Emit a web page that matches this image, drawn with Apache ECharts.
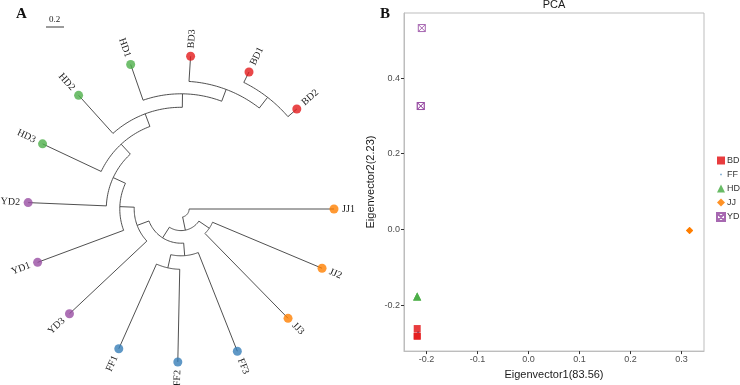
<!DOCTYPE html>
<html>
<head>
<meta charset="utf-8">
<script src="https://cdn.jsdelivr.net/npm/echarts@6/dist/echarts.min.js"></script>
<style>
  html, body { margin: 0; padding: 0; background: #fff; }
  #main { width: 740px; height: 385px; }
</style>
</head>
<body>
<div id="main"></div>
<script>
// ---------- A: circular tree ----------
// tips in the order they sit round the circle, clockwise from JJ1
const tipNames = ["JJ1", "JJ2", "JJ3", "FF3", "FF2", "FF1", "YD3", "YD1", "YD2", "HD3", "HD2", "HD1", "BD3", "BD1", "BD2"];
const tipGroups = ["JJ", "JJ", "JJ", "FF", "FF", "FF", "YD", "YD", "YD", "HD", "HD", "HD", "BD", "BD", "BD"];
const tipDepth = 1.70;
// internal nodes: distance from root and children
const nodeNames = ["root", "n1", "jj23", "n2", "ff", "ff12", "yd3n", "yd1n", "yd2n", "hd3n", "hd2n", "hd1n", "bd3n", "bd12"];
const nodeDepths = [0.09, 0.24, 0.38, 0.38, 0.52, 0.67, 0.52, 0.68, 0.83, 0.98, 1.13, 1.28, 1.42, 1.57];
const nodeChildren = [
  ["n1", "JJ1"], ["n2", "jj23"], ["JJ2", "JJ3"], ["yd3n", "ff"], ["ff12", "FF3"], ["FF1", "FF2"],
  ["yd1n", "YD3"], ["yd2n", "YD1"], ["hd3n", "YD2"], ["hd2n", "HD3"], ["hd1n", "HD2"],
  ["bd3n", "HD1"], ["bd12", "BD3"], ["BD1", "BD2"]
];

// ---------- B: PCA ----------
const pcaGroups = ["BD", "FF", "HD", "JJ", "YD"];
const pcaBD = [[-0.218, -0.262], [-0.218, -0.282], [-0.218, -0.282]];
const pcaFF = [[-0.216, -0.272], [-0.216, -0.272], [-0.216, -0.272]];
const pcaHD = [[-0.218, -0.177], [-0.218, -0.177], [-0.218, -0.177]];
const pcaJJ = [[0.316, -0.003], [0.316, -0.003], [0.316, -0.003]];
const pcaYD = [[-0.209, 0.532], [-0.211, 0.326], [-0.211, 0.326]];
const xTicks = [-0.2, -0.1, 0, 0.1, 0.2, 0.3];
const yTicks = [-0.2, 0, 0.2, 0.4];

const GROUP_COLORS = { BD: "#e41a1c", FF: "#377eb8", HD: "#4daf4a", JJ: "#ff7f00", YD: "#984ea3" };
const EDGE = "#3c3c3c";
const ANGLE_MAX = 15.79;      // leaf slots per full turn
const TREE_RADIUS = 153;
const LABEL_DEPTH = 1.79;
const SANS = "Liberation Sans";
const SERIF = "Liberation Serif";

function depthOf(name) {
  const t = tipNames.indexOf(name);
  return t >= 0 ? tipDepth : nodeDepths[nodeNames.indexOf(name)];
}
// ggtree style: node sits at mean position of its children
function angleOf(name) {
  const t = tipNames.indexOf(name);
  if (t >= 0) return t;
  const kids = nodeChildren[nodeNames.indexOf(name)];
  return kids.reduce((s, k) => s + angleOf(k), 0) / kids.length;
}

const arcData = [];
const stemData = [];
nodeNames.forEach((n, i) => {
  const angs = nodeChildren[i].map(angleOf);
  arcData.push([nodeDepths[i], Math.min(...angs), Math.max(...angs)]);
  nodeChildren[i].forEach((c) => stemData.push([nodeDepths[i], angleOf(c), depthOf(c)]));
});

function renderArc(params, api) {
  const r = api.value(0), a0 = api.value(1), a1 = api.value(2);
  const pts = [];
  const n = 30;
  for (let k = 0; k <= n; k++) pts.push(api.coord([r, a0 + (a1 - a0) * k / n]));
  return { type: "polyline", shape: { points: pts }, style: { stroke: EDGE, lineWidth: 0.9, fill: null } };
}
function renderStem(params, api) {
  const a = api.value(1);
  const p0 = api.coord([api.value(0), a]);
  const p1 = api.coord([api.value(2), a]);
  return { type: "line", shape: { x1: p0[0], y1: p0[1], x2: p1[0], y2: p1[1] }, style: { stroke: EDGE, lineWidth: 0.9 } };
}
function renderTipLabel(params, api) {
  const a = api.value(1);
  const p = api.coord([api.value(0), a]);
  let th = -a * 360 / ANGLE_MAX;
  while (th <= -180) th += 360;
  const onLeft = Math.cos(th * Math.PI / 180) < 0;
  return {
    type: "text",
    x: p[0], y: p[1],
    rotation: (onLeft ? th + 180 : th) * Math.PI / 180,
    style: {
      text: tipNames[params.dataIndex],
      align: onLeft ? "right" : "left",
      verticalAlign: "middle",
      fill: "#1a1a1a",
      font: "10px '" + SERIF + "'"
    }
  };
}

const YD_SYMBOL = "path://M0,0H10V10H0ZM0,0L10,10M10,0L0,10";
const FF_ICON = "path://M0,0M10,10M4.2,4.2H5.8V5.8H4.2Z";
const pcaSeriesData = { BD: pcaBD, FF: pcaFF, HD: pcaHD, JJ: pcaJJ, YD: pcaYD };
const pcaSymbols = {
  BD: ["rect", 7], FF: ["circle", 2], HD: ["triangle", 8], JJ: ["diamond", 7], YD: [YD_SYMBOL, 7]
};

const pcaSeries = pcaGroups.map((g) => ({
  name: g,
  type: "scatter",
  xAxisIndex: 0,
  yAxisIndex: 0,
  data: pcaSeriesData[g],
  symbol: pcaSymbols[g][0],
  symbolSize: pcaSymbols[g][1],
  z: g === "FF" ? 1 : 2,
  itemStyle: g === "YD"
    ? { color: "rgba(0,0,0,0)", borderColor: GROUP_COLORS.YD, borderWidth: 1, opacity: 0.85 }
    : { color: GROUP_COLORS[g], opacity: 0.85 }
}));

const scaleLen = TREE_RADIUS / tipDepth * 0.2;

const chart = echarts.init(document.getElementById("main"));
chart.setOption({
  animation: false,
  textStyle: { fontFamily: SANS },
  title: {
    text: "PCA", left: 554, top: -1, textAlign: "center", padding: 0,
    textStyle: { fontSize: 11, fontWeight: "normal", color: "#1a1a1a", fontFamily: SANS }
  },
  graphic: [
    { type: "text", left: 16, top: 7, style: { text: "A", font: "bold 15px '" + SERIF + "'", fill: "#111" } },
    { type: "text", left: 380, top: 7, style: { text: "B", font: "bold 15px '" + SERIF + "'", fill: "#111" } },
    { type: "text", left: 49, top: 15, style: { text: "0.2", font: "9px '" + SERIF + "'", fill: "#222" } },
    { type: "line", shape: { x1: 46, y1: 27, x2: 46 + scaleLen, y2: 27 }, style: { stroke: "#222", lineWidth: 0.9 } }
  ],
  legend: {
    orient: "vertical", left: 716, top: 156, padding: 0,
    itemWidth: 8, itemHeight: 8, itemGap: 5,
    textStyle: { fontSize: 9, color: "#333", lineHeight: 8, fontFamily: SANS, padding: [0, 0, 0, -3] },
    data: pcaGroups.map((g) => (g === "FF" ? { name: g, icon: FF_ICON } : { name: g }))
  },
  polar: { center: [181, 209], radius: TREE_RADIUS },
  angleAxis: { type: "value", min: 0, max: ANGLE_MAX, startAngle: 0, clockwise: true, show: false },
  radiusAxis: { type: "value", min: 0, max: tipDepth, show: false },
  grid: { left: 404, top: 13, right: 36, bottom: 30, show: true, borderColor: "#bdbdbd", borderWidth: 1 },
  xAxis: {
    type: "value", min: -0.2439, max: 0.3443,
    name: "Eigenvector1(83.56)", nameLocation: "middle", nameGap: 17,
    nameTextStyle: { fontSize: 11, color: "#1a1a1a" },
    axisLine: { show: true, onZero: false, lineStyle: { color: "#bdbdbd" } },
    axisTick: { show: true, length: 3, customValues: xTicks, lineStyle: { color: "#333" } },
    axisLabel: { customValues: xTicks, fontSize: 9, color: "#4d4d4d", margin: 4, formatter: (v) => v.toFixed(1) },
    splitLine: { show: false }
  },
  yAxis: {
    type: "value", min: -0.3216, max: 0.5718,
    name: "Eigenvector2(2.23)", nameLocation: "middle", nameGap: 28,
    nameTextStyle: { fontSize: 11, color: "#1a1a1a" },
    axisLine: { show: true, onZero: false, lineStyle: { color: "#bdbdbd" } },
    axisTick: { show: true, length: 3, customValues: yTicks, lineStyle: { color: "#333" } },
    axisLabel: { customValues: yTicks, fontSize: 9, color: "#4d4d4d", margin: 4, formatter: (v) => v.toFixed(1) },
    splitLine: { show: false }
  },
  series: [
    { name: "arcs", type: "custom", coordinateSystem: "polar", data: arcData, renderItem: renderArc, silent: true },
    { name: "stems", type: "custom", coordinateSystem: "polar", data: stemData, renderItem: renderStem, silent: true },
    {
      name: "tips", type: "scatter", coordinateSystem: "polar", symbolSize: 9, z: 3,
      data: tipNames.map((n, i) => ({ value: [tipDepth, i], itemStyle: { color: GROUP_COLORS[tipGroups[i]] } }))
    },
    { name: "tipLabels", type: "custom", coordinateSystem: "polar", data: tipNames.map((n, i) => [LABEL_DEPTH, i]), renderItem: renderTipLabel, silent: true }
  ].concat(pcaSeries)
});
</script>
</body>
</html>
